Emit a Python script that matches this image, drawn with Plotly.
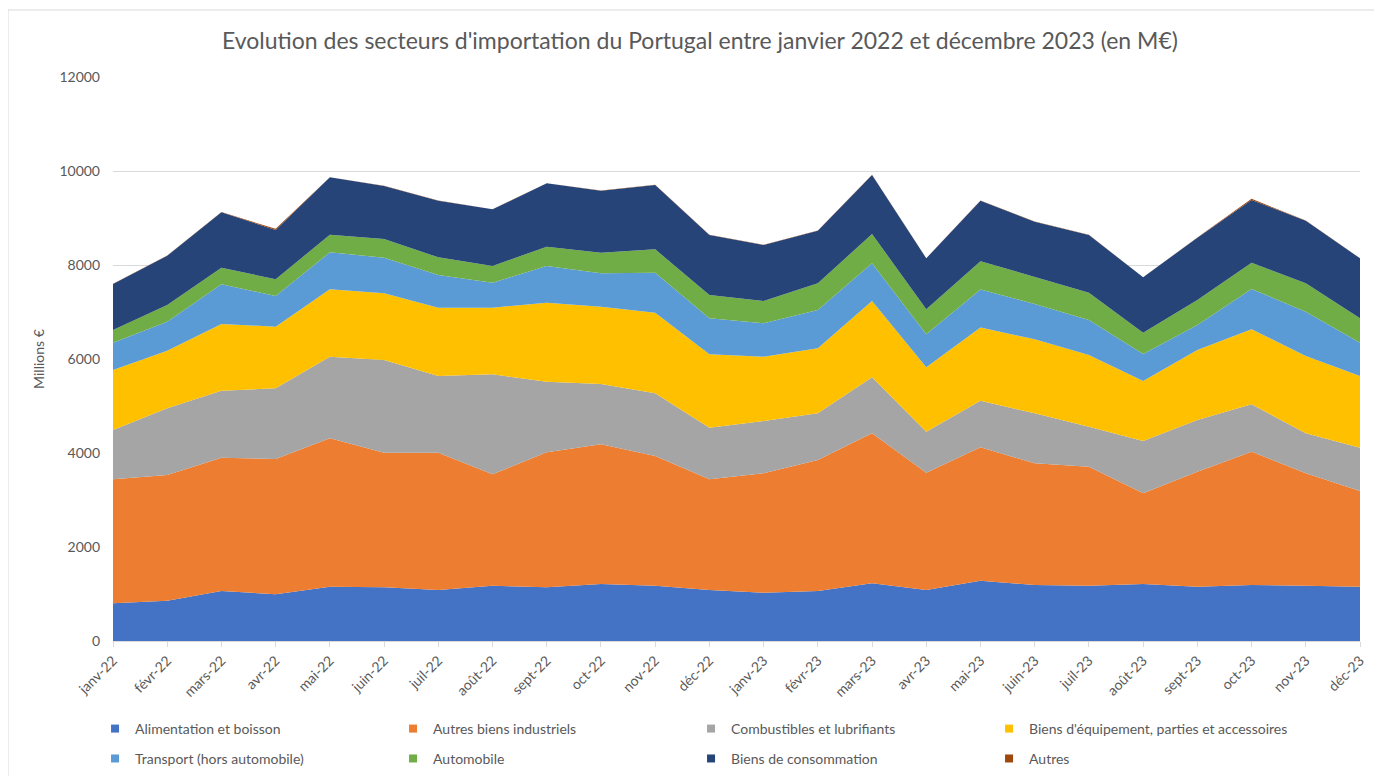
import plotly.graph_objects as go

months = ["janv-22", "févr-22", "mars-22", "avr-22", "mai-22", "juin-22", "juil-22", "août-22",
          "sept-22", "oct-22", "nov-22", "déc-22", "janv-23", "févr-23", "mars-23", "avr-23",
          "mai-23", "juin-23", "juil-23", "août-23", "sept-23", "oct-23", "nov-23", "déc-23"]

alimentation = [802, 858, 1064, 993, 1156, 1142, 1085, 1177, 1142, 1213, 1177, 1085,
                1028, 1064, 1227, 1085, 1284, 1191, 1177, 1213, 1156, 1191, 1177, 1156]
autres_industriels = [2638, 2674, 2837, 2879, 3156, 2865, 2922, 2369, 2872, 2971, 2759, 2355,
                      2539, 2787, 3191, 2496, 2837, 2589, 2532, 1929, 2447, 2837, 2390, 2035]
combustibles = [1049, 1418, 1425, 1504, 1738, 1972, 1631, 2128, 1504, 1284, 1334, 1099,
                1114, 993, 1192, 873, 989, 1064, 851, 1113, 1099, 1007, 851, 922]
equipement = [1277, 1227, 1419, 1312, 1432, 1418, 1454, 1418, 1681, 1645, 1716, 1560,
              1369, 1383, 1624, 1369, 1560, 1575, 1525, 1277, 1489, 1597, 1646, 1525]
transport = [581, 617, 844, 652, 788, 759, 695, 532, 780, 710, 851, 766,
             709, 816, 801, 702, 808, 751, 745, 574, 532, 857, 943, 709]
automobile = [270, 355, 354, 355, 375, 397, 376, 355, 411, 439, 496, 497,
              475, 567, 625, 532, 602, 582, 581, 454, 532, 561, 603, 518]
consommation = [979, 1050, 1178, 1050, 1220, 1128, 1206, 1205, 1348, 1319, 1369, 1276,
                1192, 1120, 1255, 1085, 1289, 1170, 1227, 1178, 1327, 1333, 1333, 1277]
autres = [3, 3, 5, 25, 3, 3, 3, 3, 3, 3, 3, 3,
          3, 3, 3, 3, 3, 3, 3, 3, 3, 25, 3, 3]

series = [
    ("Alimentation et boisson", alimentation, "#4472C4", "legend"),
    ("Autres biens industriels", autres_industriels, "#ED7D31", "legend"),
    ("Combustibles et lubrifiants", combustibles, "#A5A5A5", "legend"),
    ("Biens d'équipement, parties et accessoires", equipement, "#FFC000", "legend"),
    ("Transport (hors automobile)", transport, "#5B9BD5", "legend2"),
    ("Automobile", automobile, "#70AD47", "legend2"),
    ("Biens de consommation", consommation, "#264478", "legend2"),
    ("Autres", autres, "#9E480E", "legend2"),
]

FONT = "Lato, 'Open Sans', sans-serif"
GREY = "#595959"

fig = go.Figure()
for name, vals, color, lg in series:
    fig.add_trace(go.Scatter(
        x=months, y=vals, name=name, mode="lines", stackgroup="one",
        line=dict(width=0, color=color), fillcolor=color, showlegend=False,
        hovertemplate="%{x}<br>" + name + ": %{y}<extra></extra>",
    ))
# legend entries with square markers
for name, vals, color, lg in series:
    fig.add_trace(go.Scatter(
        x=[months[0]], y=[None], name=name, mode="markers",
        marker=dict(symbol="square", size=8, color=color),
        legend=lg, showlegend=True, hoverinfo="skip",
    ))

legend_common = dict(orientation="h", xanchor="left", yanchor="middle",
                     entrywidth=253, entrywidthmode="pixels", itemwidth=30,
                     traceorder="normal",
                     font=dict(size=14, color=GREY), bgcolor="rgba(0,0,0,0)")

fig.update_layout(
    width=1382, height=776,
    paper_bgcolor="white", plot_bgcolor="white",
    margin=dict(l=105, r=30, t=69, b=143, autoexpand=False),
    font=dict(family=FONT, color=GREY, size=14),
    title=dict(text="Evolution des secteurs d'importation du Portugal entre janvier 2022 et décembre 2023 (en M€)",
               x=0.5007, xanchor="center", y=0.957, yanchor="middle",
               font=dict(size=23, color=GREY, family=FONT)),
    xaxis=dict(type="category", range=[0, 23], tickangle=-45, showgrid=False,
               showline=True, linecolor="#D9D9D9", linewidth=1,
               ticks="outside", ticklen=5, tickcolor="#D9D9D9", automargin=False,
               tickfont=dict(size=14, color=GREY)),
    yaxis=dict(range=[0, 12000], dtick=2000, tickformat="d", showgrid=True,
               gridcolor="#D9D9D9", gridwidth=1, zeroline=False, ticks="",
               ticklabelstandoff=12, automargin=False,
               title=dict(text="Millions €", font=dict(size=14, color=GREY), standoff=11),
               tickfont=dict(size=14, color=GREY)),
    legend=dict(x=-0.0144, y=-0.156, **legend_common),
    legend2=dict(x=-0.0144, y=-0.209, **legend_common),
    shapes=[dict(type="rect", xref="paper", yref="paper",
                 x0=(8 - 113) / 1247, x1=(1400 - 113) / 1247,
                 y0=(641 - 800) / 564, y1=(641 - 10) / 564,
                 line=dict(color="#D9D9D9", width=1), fillcolor="rgba(0,0,0,0)", layer="below")],
)

fig.write_html("out.html")
